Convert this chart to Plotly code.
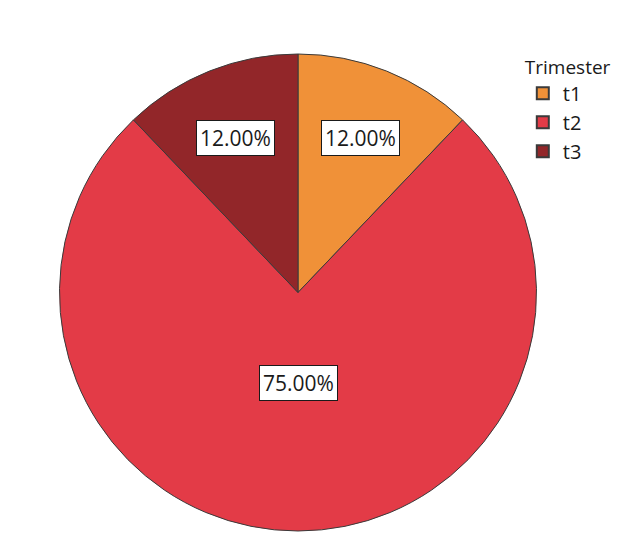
import math
import plotly.graph_objects as go

# Chart data
trimesters = ['t1', 't2', 't3']
shares = [12.0, 75.0, 12.0]
slice_colors = ['#F09138', '#E33B47', '#922629']

# label placement as a fraction of the radius
label_radius = [0.70, 0.38, 0.70]

W, H = 624, 540
# page body has an 8px margin, so positions are given relative to the figure
cx, cy, R = 290, 284.5, 238.5

fig = go.Figure(go.Pie(
    labels=trimesters, values=shares, sort=False, direction='clockwise', rotation=0,
    marker={'colors': slice_colors, 'line': {'color': '#3a3a3a', 'width': 1}},
    textinfo='none', hoverinfo='label+percent',
    domain={'x': [(cx - R) / W, (cx + R) / W], 'y': [1 - (cy + R) / H, 1 - (cy - R) / H]},
))

# boxed percentage labels placed at each slice's mid angle
total = sum(shares)
start = 0.0
for val, rf in zip(shares, label_radius):
    mid = (start + val / 2) / total * 2 * math.pi
    start += val
    px = cx + rf * R * math.sin(mid)
    py = cy - rf * R * math.cos(mid)
    fig.add_annotation(x=px / W, y=1 - py / H, xref='paper', yref='paper',
                       xanchor='center', yanchor='middle',
                       text=f'{val:.2f}%', showarrow=False,
                       font={'family': 'Open Sans', 'size': 21, 'color': '#1a1a1a'},
                       bgcolor='white', bordercolor='#1a1a1a', borderwidth=1, borderpad=3)

fig.update_layout(
    width=W, height=H, margin={'l': 0, 'r': 0, 't': 0, 'b': 0},
    paper_bgcolor='white', plot_bgcolor='white',
    legend={'title': {'text': 'Trimester', 'font': {'size': 19}},
            'font': {'family': 'Open Sans', 'size': 20, 'color': '#1a1a1a'},
            'x': 0.825, 'y': 0.924, 'xanchor': 'left', 'yanchor': 'top',
            'itemsizing': 'constant', 'tracegroupgap': 0},
    font={'family': 'Open Sans', 'color': '#1a1a1a'},
)

fig.write_html("out.html")
